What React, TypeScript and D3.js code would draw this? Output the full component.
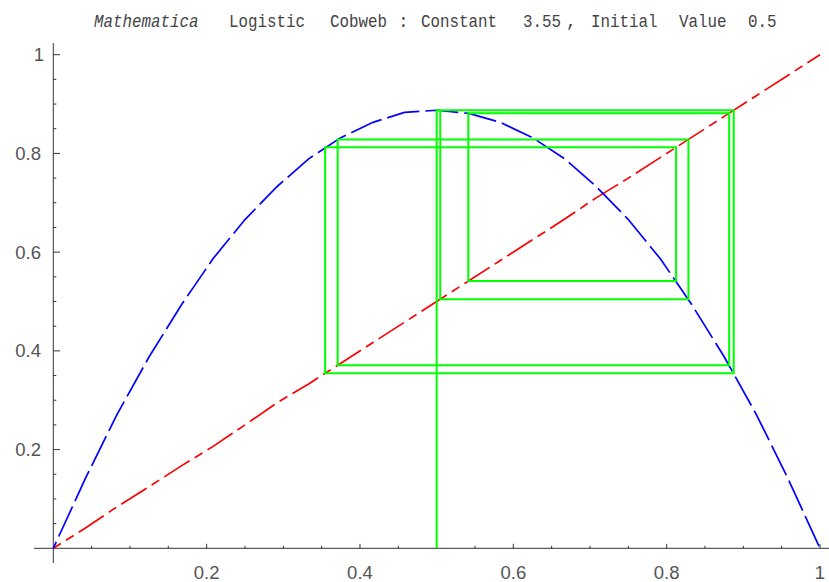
import React, {useRef, useEffect} from 'react';
import * as d3 from 'd3';

const width = 829;
const height = 582;

// sample points of the map
const xGrid = [0, 0.042, 0.083, 0.125, 0.167, 0.208, 0.25, 0.292, 0.333, 0.375, 0.417, 0.458, 0.5,
  0.542, 0.583, 0.625, 0.667, 0.708, 0.75, 0.792, 0.833, 0.875, 0.917, 0.958, 1];
const logisticValues = [0, 0.142, 0.271, 0.388, 0.493, 0.586, 0.666, 0.733, 0.789, 0.832, 0.863, 0.883, 0.8875,
  0.881, 0.863, 0.832, 0.789, 0.733, 0.666, 0.586, 0.493, 0.388, 0.271, 0.142, 0];
const diagonalValues = [0, 0.041, 0.084, 0.125, 0.167, 0.206, 0.25, 0.295, 0.333, 0.375, 0.417, 0.458, 0.5,
  0.542, 0.583, 0.625, 0.667, 0.71, 0.75, 0.792, 0.833, 0.875, 0.917, 0.958, 1];

// iterates x0, x1, ... of the cobweb
const cobwebIterates = [0.5, 0.8875, 0.3545, 0.8123, 0.5413, 0.8815, 0.3709, 0.8284, 0.5047, 0.8874, 0.3546, 0.8125];

const majorTicks = [0.2, 0.4, 0.6, 0.8, 1];
const minorTicks = [0.05, 0.1, 0.15, 0.25, 0.3, 0.35, 0.45, 0.5, 0.55, 0.65, 0.7, 0.75, 0.85, 0.9, 0.95];

const titleWords = ['Mathematica', 'Logistic', 'Cobweb', ':', 'Constant', '3.55', ',', 'Initial', 'Value', '0.5'];
const titleX = [94, 229, 330, 398, 421, 523, 566, 591, 679, 748];

const setupChart = (container: SVGSVGElement) => {
  const svg = d3.select(container);
  svg.selectAll('*').remove();

  const x = d3.scaleLinear().domain([0, 1]).range([53.3, 820]);
  const y = d3.scaleLinear().domain([0, 1]).range([548.3, 54.7]);

  // title, one text per word (the spacing is uneven)
  svg
  .append('g')
  .attr('fill', '#444')
  .style('font-family', '"Liberation Mono", "Courier New", monospace')
  .style('font-size', '18px')
  .selectAll('text')
  .data(titleWords)
  .enter()
  .append('text')
  .attr('x', (d, i) => titleX[i])
  .attr('y', 27)
  .attr('textLength', d => (d.length > 1 ? d.length * 9.5 : null))
  .attr('lengthAdjust', 'spacingAndGlyphs')
  .style('font-style', (d, i) => (i === 0 ? 'italic' : 'normal'))
  .text(d => d);

  // axes
  const axes = svg.append('g').attr('stroke', '#333').attr('stroke-width', 1);
  axes.append('line').attr('x1', 34).attr('x2', width).attr('y1', y(0)).attr('y2', y(0));
  axes.append('line').attr('x1', x(0)).attr('x2', x(0)).attr('y1', 43).attr('y2', 563);

  axes
  .selectAll('.xmaj')
  .data(majorTicks)
  .enter()
  .append('line')
  .attr('x1', d => x(d))
  .attr('x2', d => x(d))
  .attr('y1', y(0))
  .attr('y2', y(0) - 4.5);
  axes
  .selectAll('.xmin')
  .data(minorTicks)
  .enter()
  .append('line')
  .attr('x1', d => x(d))
  .attr('x2', d => x(d))
  .attr('y1', y(0))
  .attr('y2', y(0) - 2.5);
  axes
  .selectAll('.ymaj')
  .data(majorTicks)
  .enter()
  .append('line')
  .attr('x1', x(0))
  .attr('x2', x(0) + 6.7)
  .attr('y1', d => y(d))
  .attr('y2', d => y(d));
  axes
  .selectAll('.ymin')
  .data(minorTicks)
  .enter()
  .append('line')
  .attr('x1', x(0))
  .attr('x2', x(0) + 3)
  .attr('y1', d => y(d))
  .attr('y2', d => y(d));

  const labels = svg
  .append('g')
  .attr('fill', '#555')
  .style('font-family', '"Liberation Sans", Arial, sans-serif')
  .style('font-size', '18.5px');
  labels
  .selectAll('.xl')
  .data(majorTicks)
  .enter()
  .append('text')
  .attr('x', d => x(d))
  .attr('y', 578.5)
  .attr('text-anchor', 'middle')
  .text(d => d3.format('~g')(d));
  labels
  .selectAll('.yl')
  .data(majorTicks)
  .enter()
  .append('text')
  .attr('x', d => (d === 1 ? 44 : 41))
  .attr('y', d => y(d))
  .attr('dy', '0.35em')
  .attr('text-anchor', 'end')
  .text(d => d3.format('~g')(d));

  const line = d3
  .line<number>()
  .x((d, i) => x(xGrid[i]))
  .y(d => y(d));

  // diagonal y = x
  svg
  .append('path')
  .attr('fill', 'none')
  .attr('stroke', '#ff0000')
  .attr('stroke-width', 1.7)
  .attr('stroke-dasharray', '30 6 9 6')
  .attr('stroke-dashoffset', 21)
  .attr('d', line(diagonalValues));

  // logistic map
  svg
  .append('path')
  .attr('fill', 'none')
  .attr('stroke', '#0000ff')
  .attr('stroke-width', 1.7)
  .attr('stroke-dasharray', '33 6')
  .attr('stroke-dashoffset', 26)
  .attr('d', line(logisticValues));

  // cobweb
  const web: [number, number][] = [[cobwebIterates[0], 0]];
  for (let i = 0; i < cobwebIterates.length - 1; i++) {
    web.push([cobwebIterates[i], cobwebIterates[i + 1]]);
    web.push([cobwebIterates[i + 1], cobwebIterates[i + 1]]);
  }
  svg
  .append('path')
  .attr('fill', 'none')
  .attr('stroke', '#00ff00')
  .attr('stroke-width', 2)
  .attr('d', d3.line().x(d => x(d[0])).y(d => y(d[1]))(web));
};

export default () => {
  const svgRef = useRef<SVGSVGElement>(null);
  useEffect(() => {
    document.body.style.margin = '0';
    if (svgRef.current) {
      setupChart(svgRef.current);
    }
  }, []);
  return <svg ref={svgRef} width={width} height={height} style={{display: 'block', background: '#fff'}} />;
};
